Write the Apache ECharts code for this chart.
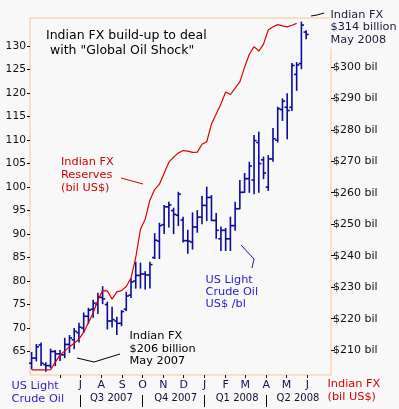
<!DOCTYPE html>
<html>
<head>
<meta charset="utf-8">
<script src="https://cdn.jsdelivr.net/npm/echarts@6/dist/echarts.min.js"></script>
<style>
  html, body { margin: 0; padding: 0; background: #f8f8f8; }
  #chart { width: 399px; height: 409px; }
</style>
</head>
<body>
<div id="chart"></div>
<script>
// x axis counts days from Mon 2007-04-16, one bar / point per week
const firstWeekDay = 4  // Fri 2007-04-20

// US light crude, weekly OHLC (US$ /bl)
const oilOpen = [62.5, 63.6, 66.4, 62.2, 62.0, 65.0, 64.5, 64.3, 66.5, 67.5,
  69.0, 70.0, 72.5, 74.0, 75.0, 76.5, 75.0, 71.5, 71.5, 71.0,
  74.0, 77.0, 80.0, 81.2, 81.5, 81.3, 85.0, 88.5, 92.0, 95.8,
  95.0, 94.0, 93.0, 88.6, 88.3, 91.5, 93.6, 96.1, 97.8, 92.9,
  89.0, 90.8, 89.0, 91.8, 95.4, 98.9, 101.8, 101.5, 109.5, 105.8,
  100.0, 106.0, 110.0, 116.5, 117.0, 117.0, 124.0, 126.3, 133.0]
const oilHigh = [64.8, 66.5, 66.8, 62.6, 65.5, 65.2, 65.2, 67.8, 68.4, 69.9,
  71.0, 73.2, 74.2, 75.9, 77.4, 78.8, 75.5, 74.4, 72.3, 73.7,
  77.6, 80.5, 84.0, 83.8, 82.0, 84.0, 90.1, 92.3, 96.1, 96.8,
  95.5, 98.9, 93.6, 90.8, 94.5, 95.0, 98.0, 100.0, 98.2, 94.4,
  91.5, 91.2, 93.6, 96.8, 101.4, 102.9, 105.3, 111.0, 111.7, 106.4,
  106.7, 112.5, 117.0, 118.8, 119.9, 126.3, 126.5, 135.1, 133.3]
const oilLow = [61.3, 63.0, 62.0, 60.8, 61.6, 62.0, 63.1, 63.7, 64.8, 65.6,
  67.0, 69.1, 71.0, 72.3, 73.1, 75.2, 69.8, 70.2, 68.6, 70.5,
  73.7, 76.5, 78.5, 78.5, 78.3, 78.5, 84.8, 84.8, 90.1, 91.5,
  90.1, 91.8, 88.3, 85.9, 86.8, 90.4, 92.2, 92.9, 92.9, 89.1,
  86.5, 86.5, 86.5, 90.8, 95.4, 98.9, 98.9, 98.6, 98.9, 101.8,
  99.3, 105.5, 109.6, 114.2, 110.3, 116.3, 120.6, 125.2, 131.6]
const oilClose = [63.6, 66.0, 62.5, 62.0, 65.0, 64.5, 64.3, 66.5, 67.9, 69.3,
  70.2, 72.5, 73.8, 75.3, 76.6, 76.2, 71.5, 71.8, 71.0, 73.5,
  76.8, 79.8, 81.2, 81.5, 81.3, 83.5, 88.7, 91.8, 95.8, 96.2,
  94.2, 98.5, 88.6, 88.5, 91.5, 93.6, 96.1, 97.8, 92.9, 90.8,
  90.8, 89.0, 91.8, 95.4, 98.9, 101.8, 104.5, 109.9, 105.0, 103.0,
  106.0, 110.3, 116.7, 118.3, 116.3, 125.9, 126.0, 134.5, 132.5]

// Indian FX reserves, weekly (bil US$)
const fxReserves = [203.7, 203.7, 203.7, 203.7, 203.8, 206.2, 208.4, 209.7, 211.1, 212.2,
  213.5, 215.7, 218.7, 221.8, 225.9, 228.9, 228.8, 226.2, 228.5, 228.9,
  230.2, 232.9, 239.5, 248.4, 251.6, 257.7, 261.0, 262.7, 266.2, 269.7,
  271.3, 272.6, 273.4, 273.2, 272.8, 272.9, 275.4, 276.2, 281.8, 285.0,
  288.2, 292.0, 291.2, 293.2, 295.2, 299.9, 304.0, 306.4, 305.0, 307.2,
  311.7, 312.7, 313.4, 313.0, 312.7, 313.2, 313.8]

// axis ticks and labels
const monthTickDays = [46, 76, 107, 138, 168, 199, 229, 260, 291, 320, 351, 381, 412]
const monthLabels = ['', 'J', 'A', 'S', 'O', 'N', 'D', 'J', 'F', 'M', 'A', 'M', 'J']
const quarterStartDays = [76, 168, 260, 351]
const quarterMidDays = [122, 217, 308, 398]
const quarterLabels = ['Q3 2007', 'Q4 2007', 'Q1 2008', 'Q2 2008']
const oilTicks = [65, 70, 75, 80, 85, 90, 95, 100, 105, 110, 115, 120, 125, 130]
const fxTicks = [210, 220, 230, 240, 250, 260, 270, 280, 290, 300]

const FONT = '"DejaVu Sans", Verdana, sans-serif'

const oilData = oilOpen.map((o, i) => [firstWeekDay + 7 * i, o, oilHigh[i], oilLow[i], oilClose[i]])
const fxData = fxReserves.map((v, i) => [firstWeekDay + 7 * i, v])

// OHLC bar: high-low stick, open tick left, close tick right
function renderOhlc(params, api) {
  const x = api.value(0)
  const o = api.coord([x, api.value(1)])
  const h = api.coord([x, api.value(2)])
  const l = api.coord([x, api.value(3)])
  const c = api.coord([x, api.value(4)])
  const style = { stroke: '#0b0b9c', lineWidth: 1.6 }
  return {
    type: 'group',
    children: [
      { type: 'line', shape: { x1: h[0], y1: h[1] - 0.5, x2: l[0], y2: l[1] + 0.5 }, style },
      { type: 'line', shape: { x1: o[0] - 2.6, y1: o[1], x2: o[0], y2: o[1] }, style },
      { type: 'line', shape: { x1: c[0], y1: c[1], x2: c[0] + 2.6, y2: c[1] }, style }
    ]
  }
}

function note(x, y, text, fill, lineHeight, extra) {
  return {
    type: 'text', z: 50,
    style: Object.assign({
      x, y, text, fill,
      font: '11.3px ' + FONT,
      lineHeight,
      verticalAlign: 'top'
    }, extra || {})
  }
}

function leader(points, stroke) {
  return {
    type: 'polyline', z: 50,
    shape: { points },
    style: { stroke, lineWidth: 1, fill: null }
  }
}

const chart = echarts.init(document.getElementById('chart'))

const option = {
  animation: false,
  backgroundColor: '#f8f8f8',
  grid: {
    left: 30, right: 68, top: 18, bottom: 34,
    show: true,
    borderColor: '#f9c592',
    borderWidth: 1,
    backgroundColor: 'transparent'
  },
  xAxis: [
    {
      type: 'value',
      min: 1.6, max: 446.8,
      axisLine: { show: false },
      splitLine: { show: false },
      axisTick: { length: 3, customValues: monthTickDays, lineStyle: { color: '#111' } },
      axisLabel: {
        customValues: monthTickDays.slice(1),
        margin: 5,
        color: '#121250',
        fontFamily: FONT,
        fontSize: 11,
        formatter: v => monthLabels[monthTickDays.indexOf(v)]
      }
    },
    {
      type: 'value',
      position: 'bottom',
      offset: 20,
      min: 1.6, max: 446.8,
      axisLine: { show: false },
      splitLine: { show: false },
      axisTick: { length: 12, customValues: quarterStartDays, lineStyle: { color: '#000' } },
      axisLabel: {
        customValues: quarterMidDays,
        margin: -2,
        color: '#101030',
        fontFamily: FONT,
        fontSize: 10,
        formatter: v => quarterLabels[quarterMidDays.indexOf(v)]
      }
    }
  ],
  yAxis: [
    {
      type: 'value',
      position: 'left',
      min: 60, max: 136,
      axisLine: { show: false },
      splitLine: { show: false },
      axisTick: { length: 3, customValues: oilTicks, lineStyle: { color: '#111' } },
      axisLabel: {
        customValues: oilTicks,
        margin: 4,
        color: '#111',
        fontFamily: FONT,
        fontSize: 10.7
      }
    },
    {
      type: 'value',
      position: 'right',
      min: 202.1, max: 315.5,
      axisLine: { show: false },
      splitLine: { show: false },
      axisTick: { length: 4, customValues: fxTicks, lineStyle: { color: '#111' } },
      axisLabel: {
        customValues: fxTicks,
        margin: 2,
        color: '#111',
        fontFamily: FONT,
        fontSize: 11,
        formatter: v => '$' + v + ' bil'
      }
    }
  ],
  series: [
    {
      name: 'US Light Crude Oil',
      type: 'custom',
      xAxisIndex: 0,
      yAxisIndex: 0,
      renderItem: renderOhlc,
      encode: { x: 0, y: [1, 2, 3, 4] },
      data: oilData,
      z: 3
    },
    {
      name: 'Indian FX Reserves',
      type: 'line',
      xAxisIndex: 0,
      yAxisIndex: 1,
      data: fxData,
      symbol: 'none',
      lineStyle: { color: '#e00000', width: 1.2 },
      z: 4
    }
  ],
  graphic: [
    note(46, 28, 'Indian FX build-up to deal\n with "Global Oil Shock"', '#000', 15, { font: '12.5px ' + FONT }),
    note(61, 155.5, 'Indian FX\nReserves\n(bil US$)', '#d40000', 13),
    leader([[121, 178], [143, 184]], '#d40000'),
    note(205.5, 274.5, 'US Light\nCrude Oil\nUS$ /bl', '#2b1bc8', 12),
    leader([[241, 245], [254, 259], [252, 268]], '#1a1a9a'),
    note(129.5, 329.7, 'Indian FX\n$206 billion\nMay 2007', '#000', 12.7),
    leader([[77, 358], [94, 362], [120, 354]], '#000'),
    note(329.5, 7.3, 'Indian FX\n$314 billion\nMay 2008', '#1a1a3a', 12.8,
      { backgroundColor: '#f8f8f8', padding: [1, 4, 2, 1] }),
    leader([[311, 16], [317, 15], [324, 13]], '#000'),
    note(11.5, 379.6, 'US Light\nCrude Oil', '#3a20c0', 12.7),
    note(327.5, 378, 'Indian FX\n(bil US$)', '#d40000', 12.5)
  ]
}

chart.setOption(option)
</script>
</body>
</html>
